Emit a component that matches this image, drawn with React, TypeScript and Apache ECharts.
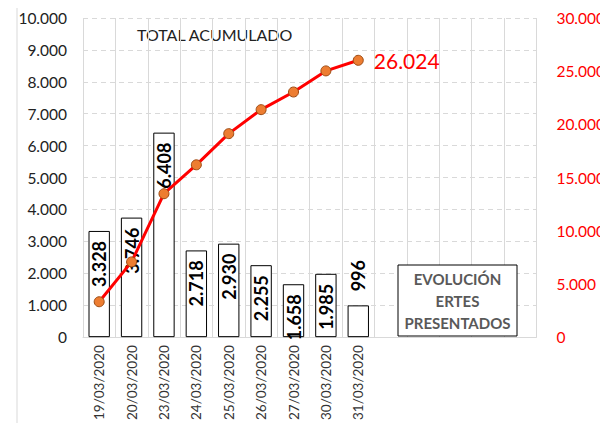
import React, { useEffect, useRef } from "react";
import * as echarts from "echarts";

const categories = [
  "19/03/2020", "20/03/2020", "23/03/2020", "24/03/2020", "25/03/2020",
  "26/03/2020", "27/03/2020", "30/03/2020", "31/03/2020", "", "", "", "", "",
];
const daily = [3328, 3746, 6408, 2718, 2930, 2255, 1658, 1985, 996];
const cumulative = [3328, 7074, 13482, 16200, 19130, 21385, 23043, 25028, 26024];

const fmt = (v: number) => {
  const s = String(Math.round(v));
  return s.replace(/\B(?=(\d{3})+(?!\d))/g, ".");
};

const FONT = "Lato, 'Liberation Sans', sans-serif";

export default function App() {
  const ref = useRef<HTMLDivElement>(null);
  useEffect(() => {
    if (!ref.current) return;
    const chart = echarts.init(ref.current, null, { renderer: "svg" });
    const barData = daily.map((v) => {
      if (v < 1200) {
        return {
          value: v,
          label: {
            show: true,
            position: "top",
            rotate: 90,
            align: "left",
            verticalAlign: "middle",
            distance: 14,
          },
        };
      }
      return v;
    });
    const lineData = cumulative.map((v, i) =>
      i === cumulative.length - 1
        ? {
            value: v,
            label: {
              show: true,
              position: "right",
              distance: 10,
              formatter: (p: any) => fmt(p.value),
              color: "#ff0000",
              fontSize: 21,
              fontFamily: FONT,
            },
          }
        : v
    );
    chart.setOption({
      animation: false,
      textStyle: { fontFamily: FONT },
      grid: { left: 83, right: 65, top: 18, bottom: 85, containLabel: false },
      graphic: [
        {
          type: "rect",
          shape: { x: 17, y: 3, width: 610, height: 440, r: 2 },
          style: { fill: "none", stroke: "#d9d9d9", lineWidth: 1 },
          silent: true,
        },
        {
          type: "text",
          left: 137,
          top: 26,
          style: { text: "TOTAL ACUMULADO", fontSize: 16, fill: "#222", fontFamily: FONT },
        },
        {
          type: "rect",
          shape: { x: 398, y: 265, width: 119, height: 71 },
          style: { fill: "#fff", stroke: "#000", lineWidth: 1 },
          z: 100,
        },
        {
          type: "text",
          x: 457.5,
          y: 301,
          z: 101,
          style: {
            text: "EVOLUCIÓN\nERTES\nPRESENTADOS",
            fontSize: 15,
            fontWeight: "bold",
            fill: "#595959",
            align: "center",
            verticalAlign: "middle",
            lineHeight: 22,
            fontFamily: FONT,
          },
        },
      ],
      xAxis: {
        type: "category",
        data: categories,
        boundaryGap: true,
        axisLine: { lineStyle: { color: "#d9d9d9" } },
        axisTick: { show: false },
        axisLabel: { rotate: 90, fontSize: 13.5, color: "#333", margin: 8, interval: 0 },
        splitLine: { show: true, interval: 0, lineStyle: { color: "#d9d9d9", type: "solid" } },
      },
      yAxis: [
        {
          type: "value",
          min: 0,
          max: 10000,
          interval: 1000,
          axisLine: { show: false },
          axisTick: { show: false },
          axisLabel: { formatter: (v: number) => fmt(v), fontSize: 15.5, color: "#222", margin: 16 },
          splitLine: { lineStyle: { color: "#d9d9d9", type: [5, 4] } },
        },
        {
          type: "value",
          min: 0,
          max: 30000,
          interval: 5000,
          position: "right",
          axisLine: { show: false },
          axisTick: { show: false },
          axisLabel: { formatter: (v: number) => fmt(v), fontSize: 15.5, color: "#ff0000", margin: 20 },
          splitLine: { show: false },
        },
      ],
      series: [
        {
          type: "bar",
          data: barData,
          barCategoryGap: "34%",
          itemStyle: { color: "#fff", borderColor: "#000", borderWidth: 1 },
          label: {
            show: true,
            position: "insideTop",
            rotate: 90,
            align: "right",
            verticalAlign: "middle",
            distance: 10,
            fontSize: 18,
            fontWeight: "bold",
            color: "#000",
            formatter: (p: any) => fmt(p.value),
          },
          z: 2,
        },
        {
          type: "line",
          yAxisIndex: 1,
          data: lineData,
          symbol: "circle",
          symbolSize: 10,
          lineStyle: { color: "#ff0000", width: 3 },
          itemStyle: { color: "#ed7d31", borderColor: "#9c4a12", borderWidth: 1 },
          z: 5,
        },
      ],
    });
    return () => chart.dispose();
  }, []);
  return <div ref={ref} style={{ width: 608, height: 423, marginLeft: -8, marginTop: -8 }} />;
}
